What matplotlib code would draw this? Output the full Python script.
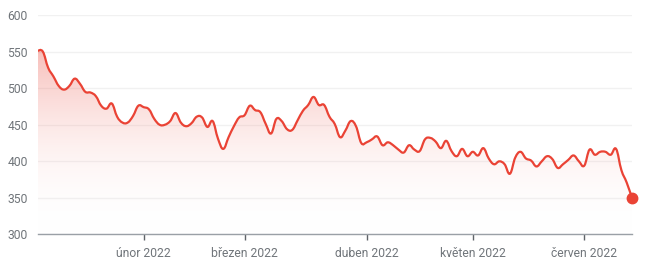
import matplotlib
matplotlib.use("Agg")
import matplotlib.pyplot as plt
import numpy as np
from matplotlib.colors import LinearSegmentedColormap
from matplotlib.path import Path
from matplotlib.patches import PathPatch

# trading-day index values (Jan 3 2022 .. mid June 2022)
values = [
    551, 550, 528, 516, 503, 498, 503, 513, 506, 495,
    494, 489, 476, 472, 479, 461, 453, 453, 462, 476,
    474, 471, 458, 450, 450, 455, 466, 453, 448, 452,
    461, 460, 447, 455, 431, 417, 433, 448, 460, 463,
    476, 470, 467, 451, 438, 458, 455, 444, 443, 456,
    469, 477, 488, 477, 477, 461, 451, 433, 442, 455,
    448, 425, 426, 430, 434, 422, 426, 422, 416, 412,
    422, 416, 414, 430, 432, 427, 418, 428, 414, 407,
    417, 407, 413, 408, 418, 404, 396, 400, 396, 383,
    405, 413, 404, 401, 393, 400, 407, 403, 391, 396,
    402, 408, 400, 394, 416, 409, 413, 413, 409, 417,
    388, 371, 350,
]
tick_positions = [20, 39, 62, 82, 103]
tick_labels = ["únor 2022", "březen 2022", "duben 2022", "květen 2022", "červen 2022"]
y_ticks = [300, 350, 400, 450, 500, 550, 600]

RED = "#ea4335"
TXT = "#70757a"

plt.rcParams["font.family"] = ["Roboto", "DejaVu Sans"]

fig = plt.figure(figsize=(6.5, 2.75), dpi=100)
ax = fig.add_axes([0.0577, 0.1473, 0.9146, 0.7982])

x = np.arange(len(values), dtype=float)
y = np.array(values, dtype=float)
n = len(values)


def smooth_path(xs, ys, t=0.2):
    # Catmull-Rom style cubic Bezier through the data points (rendering only)
    verts = [(xs[0], ys[0])]
    codes = [Path.MOVETO]
    for i in range(len(xs) - 1):
        p0 = (xs[max(i - 1, 0)], ys[max(i - 1, 0)])
        p1 = (xs[i], ys[i])
        p2 = (xs[i + 1], ys[i + 1])
        p3 = (xs[min(i + 2, len(xs) - 1)], ys[min(i + 2, len(xs) - 1)])
        c1 = (p1[0] + (p2[0] - p0[0]) * t, p1[1] + (p2[1] - p0[1]) * t)
        c2 = (p2[0] - (p3[0] - p1[0]) * t, p2[1] - (p3[1] - p1[1]) * t)
        verts += [c1, c2, p2]
        codes += [Path.CURVE4] * 3
    return verts, codes


lv, lc = smooth_path(x, y)
line_path = Path(lv, lc)
fv = lv + [(x[-1], 300), (x[0], 300), (x[0], y[0])]
fc = lc + [Path.LINETO, Path.LINETO, Path.CLOSEPOLY]
fill_path = Path(fv, fc)

ax.set_xlim(0, n - 1)
ax.set_ylim(300, 600)

# gradient fill under the line
cmap = LinearSegmentedColormap.from_list(
    "g", [(1, 1, 1, 0), (234/255, 67/255, 53/255, 0.34)])
grad = np.linspace(0, 1, 256).reshape(-1, 1)
im = ax.imshow(grad, extent=[0, n - 1, 300, 550], origin="lower",
               aspect="auto", cmap=cmap, zorder=1, interpolation="bilinear")
im.set_clip_path(fill_path, transform=ax.transData)
ax.set_ylim(300, 600)
ax.set_xlim(0, n - 1)

ax.add_patch(PathPatch(line_path, facecolor="none", edgecolor=RED, lw=1.6,
                       joinstyle="round", capstyle="round", zorder=3))
ax.plot(x[-1], y[-1], "o", color=RED, ms=7.5, clip_on=False, zorder=4)

# grid
ax.set_yticks(y_ticks)
ax.yaxis.grid(True, color="#f1f1f1", lw=1)
ax.set_axisbelow(True)
for s in ["top", "right", "left"]:
    ax.spines[s].set_visible(False)
ax.spines["bottom"].set_color("#9aa0a6")
ax.spines["bottom"].set_linewidth(1)
ax.spines["bottom"].set_zorder(5)

ax.set_xticks(tick_positions)
ax.set_xticklabels(tick_labels)
ax.tick_params(axis="x", length=4, width=1, color="#5f6368", labelsize=8.7,
               labelcolor=TXT, pad=5)
ax.tick_params(axis="y", length=0, labelsize=8.7, labelcolor=TXT, pad=7)

fig.savefig("out.png", dpi=100)
